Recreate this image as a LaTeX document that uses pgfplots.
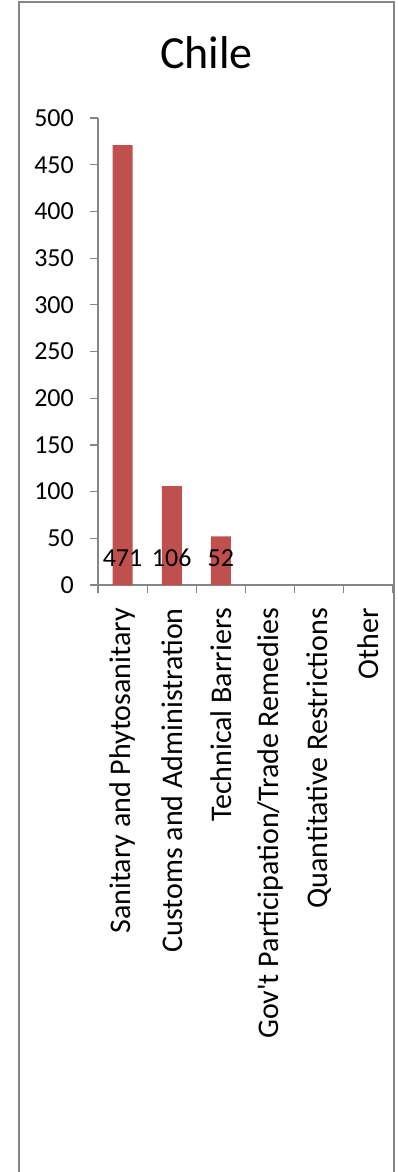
\documentclass[border=0pt]{standalone}
\usepackage{pgfplots}
\pgfplotsset{compat=1.18}
\usepackage{fontspec}
\newfontfamily\cf{Carlito}
\definecolor{barred}{HTML}{C0504D}
\definecolor{axgray}{HTML}{868686}
\begin{document}
\cf
\begin{tikzpicture}[x=1bp,y=1bp]
\useasboundingbox (0,0) rectangle (397,-1172);
\draw[axgray, line width=1.5bp] (19,-1172) -- (19,-2) -- (394,-2) -- (394,-1172);
\node[anchor=base, inner sep=0pt, font=\fontsize{46bp}{55bp}\selectfont] at (206.5,-68) {Chile};
\begin{axis}[
  at={(98bp,-585bp)}, anchor=south west,
  scale only axis, width=295bp, height=467bp,
  xmin=-0.5, xmax=5.5, ymin=0, ymax=500,
  clip=false,
  axis x line*=bottom, axis y line*=left,
  x axis line style={-}, y axis line style={-},
  axis line style={draw=axgray, line width=1.2bp},
  tick align=outside,
  major tick length=8bp, minor tick length=8bp,
  tick style={draw=axgray, line width=1.2bp},
  major x tick style={draw=none},
  xtick={0,1,2,3,4,5},
  minor xtick={-0.5,0.5,1.5,2.5,3.5,4.5,5.5},
  xticklabels={Sanitary and Phytosanitary, Customs and Administration, Technical Barriers, Gov\char"27 t Participation/Trade Remedies, Quantitative Restrictions, Other},
  xticklabel style={rotate=90, anchor=east, inner sep=0pt, font=\fontsize{30bp}{36bp}\selectfont},
  xticklabel shift=15bp,
  ytick={0,50,...,500},
  yticklabel style={anchor=east, inner sep=0pt, font=\fontsize{26bp}{31bp}\selectfont},
  yticklabel shift=16bp,
  /pgf/number format/assume math mode=true,
  scaled y ticks=false,
]
\addplot[ybar, bar width=20bp, fill=barred, draw=none] coordinates {(0,471) (1,106) (2,52) (3,0) (4,0) (5,0)};
\addplot[draw=none, mark=none, nodes near coords, point meta=explicit symbolic,
  nodes near coords style={anchor=center, yshift=27bp, inner sep=0pt, font=\fontsize{26bp}{31bp}\selectfont}]
  coordinates {(0,0) [471] (1,0) [106] (2,0) [52]};
\end{axis}
\end{tikzpicture}
\end{document}
